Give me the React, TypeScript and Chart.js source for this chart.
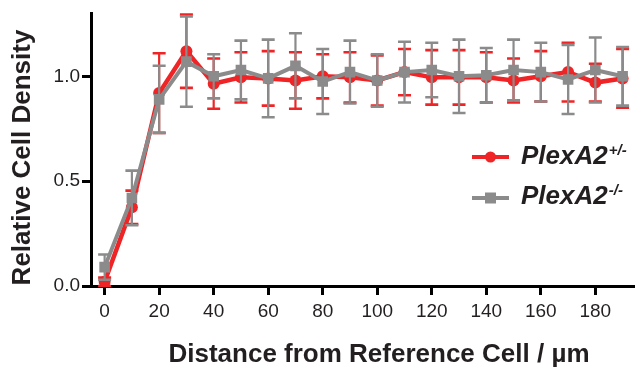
import React, { useEffect, useRef } from 'react';
import { Chart, registerables } from 'chart.js';

Chart.register(...registerables);

// ---- data ----
const distances = [0, 10, 20, 30, 40, 50, 60, 70, 80, 90, 100, 110, 120, 130, 140, 150, 160, 170, 180, 190];
const hetMeans = [0.02, 0.375, 0.92, 1.12, 0.965, 0.995, 0.99, 0.98, 1.0, 0.995, 0.98, 1.02, 0.995, 0.995, 0.995, 0.98, 1.0, 1.02, 0.97, 0.99];
const hetErrors = [0.02, 0.08, 0.19, 0.175, 0.12, 0.12, 0.13, 0.135, 0.105, 0.12, 0.12, 0.11, 0.13, 0.13, 0.12, 0.105, 0.12, 0.14, 0.09, 0.14];
const koMeans = [0.09, 0.42, 0.89, 1.07, 1.0, 1.03, 0.99, 1.05, 0.975, 1.02, 0.98, 1.02, 1.03, 1.0, 1.005, 1.03, 1.02, 0.985, 1.03, 1.0];
const koErrors = [0.06, 0.13, 0.16, 0.215, 0.105, 0.14, 0.185, 0.155, 0.155, 0.15, 0.125, 0.145, 0.13, 0.175, 0.13, 0.145, 0.14, 0.165, 0.155, 0.14];
const xTickValues = [0, 20, 40, 60, 80, 100, 120, 140, 160, 180];
const yTickValues = [0, 0.5, 1.0];
const xTitle = 'Distance from Reference Cell / µm';
const yTitle = 'Relative Cell Density';
const seriesNames = ['PlexA2', 'PlexA2'];
const seriesSups = ['+/-', '-/-'];

const RED = '#ee2426';
const GRAY = '#8b8b8b';
const INK = '#231f20';
const FONT = '"Liberation Sans", Arial, Helvetica, sans-serif';

const errorBarPlugin = {
  id: 'errorBars',
  beforeDatasetDraw(chart: any, args: any) {
    const ds = chart.data.datasets[args.index];
    const errs: number[] = ds.errors;
    if (!errs) return;
    const meta = chart.getDatasetMeta(args.index);
    const yScale = chart.scales.y;
    const ctx = chart.ctx;
    ctx.save();
    ctx.strokeStyle = ds.borderColor;
    ctx.lineCap = 'butt';
    meta.data.forEach((pt: any, i: number) => {
      const v = ds.data[i].y;
      const e = errs[i];
      const x = pt.x;
      const yTop = yScale.getPixelForValue(v + e);
      const yBot = yScale.getPixelForValue(v - e);
      ctx.lineWidth = 2.2;
      ctx.beginPath();
      ctx.moveTo(x, yTop);
      ctx.lineTo(x, yBot);
      ctx.stroke();
      ctx.lineWidth = 2.6;
      ctx.beginPath();
      ctx.moveTo(x - 6.5, yTop);
      ctx.lineTo(x + 6.5, yTop);
      ctx.moveTo(x - 6.5, yBot);
      ctx.lineTo(x + 6.5, yBot);
      ctx.stroke();
    });
    ctx.restore();
  },
};

const annotationPlugin = {
  id: 'titlesAndLegend',
  afterDraw(chart: any) {
    const ctx = chart.ctx;
    ctx.save();
    // axis titles
    ctx.fillStyle = INK;
    ctx.font = `bold 26px ${FONT}`;
    ctx.textAlign = 'center';
    ctx.textBaseline = 'alphabetic';
    ctx.fillText(xTitle, 379, 362);
    ctx.save();
    ctx.translate(30, 157.5);
    ctx.rotate(-Math.PI / 2);
    ctx.fillText(yTitle, 0, 0);
    ctx.restore();

    // legend
    const lineY = [157, 198];
    const textY = [164, 204];
    chart.data.datasets.forEach((ds: any, i: number) => {
      const y = lineY[i];
      ctx.strokeStyle = ds.borderColor;
      ctx.lineWidth = 4;
      ctx.beginPath();
      ctx.moveTo(472, y);
      ctx.lineTo(509, y);
      ctx.stroke();
      ctx.fillStyle = ds.borderColor;
      if (ds.pointStyle === 'rect') {
        ctx.fillRect(490.5 - 5.5, y - 5.5, 11, 11);
      } else {
        ctx.beginPath();
        ctx.arc(490.5, y, 5.5, 0, Math.PI * 2);
        ctx.fill();
      }
      ctx.fillStyle = INK;
      ctx.textAlign = 'left';
      ctx.font = `italic bold 26px ${FONT}`;
      ctx.fillText(seriesNames[i], 521, textY[i]);
      const w = ctx.measureText(seriesNames[i]).width;
      ctx.font = `italic bold 15px ${FONT}`;
      ctx.fillText(seriesSups[i], 521 + w + 1, textY[i] - 9);
    });
    ctx.restore();
  },
};

export default function App() {
  const canvasRef = useRef<HTMLCanvasElement | null>(null);

  useEffect(() => {
    const canvas = canvasRef.current;
    if (!canvas) return;
    const chart = new Chart(canvas, {
      type: 'line',
      data: {
        datasets: [
          {
            label: seriesNames[0] + seriesSups[0],
            data: distances.map((d, i) => ({ x: d, y: hetMeans[i] })),
            errors: hetErrors,
            borderColor: RED,
            backgroundColor: RED,
            borderWidth: 4.5,
            pointStyle: 'circle',
            pointRadius: 6,
            pointBorderWidth: 0,
            tension: 0,
            order: 2,
          } as any,
          {
            label: seriesNames[1] + seriesSups[1],
            data: distances.map((d, i) => ({ x: d, y: koMeans[i] })),
            errors: koErrors,
            borderColor: GRAY,
            backgroundColor: GRAY,
            borderWidth: 4,
            pointStyle: 'rect',
            pointRadius: 7.5,
            pointBorderWidth: 0,
            tension: 0,
            order: 1,
          } as any,
        ],
      },
      options: {
        responsive: false,
        animation: false,
        devicePixelRatio: 1,
        layout: { padding: { top: 11, right: 0, bottom: 0, left: 0 } },
        plugins: {
          legend: { display: false },
          tooltip: { enabled: false },
        },
        scales: {
          x: {
            type: 'linear',
            min: -5,
            max: 194,
            afterBuildTicks: (scale: any) => {
              scale.ticks = xTickValues.map((v) => ({ value: v }));
            },
            afterFit: (scale: any) => {
              scale.height = 84;
            },
            grid: {
              drawOnChartArea: false,
              drawTicks: true,
              tickLength: 9,
              lineWidth: 3,
              color: '#000',
            },
            border: { display: true, color: '#000', width: 3 },
            ticks: {
              autoSkip: false,
              maxRotation: 0,
              padding: 5,
              color: INK,
              font: { family: FONT, size: 19 },
              callback: (v: any) => String(v),
            },
          },
          y: {
            type: 'linear',
            min: 0,
            max: 1.3,
            afterBuildTicks: (scale: any) => {
              scale.ticks = yTickValues.map((v) => ({ value: v }));
            },
            afterFit: (scale: any) => {
              scale.width = 91;
            },
            grid: {
              drawOnChartArea: false,
              drawTicks: true,
              tickLength: 9,
              lineWidth: 3,
              color: '#000',
            },
            border: { display: true, color: '#000', width: 3 },
            ticks: {
              autoSkip: false,
              padding: 2,
              color: INK,
              font: { family: FONT, size: 19 },
              callback: (v: any) => Number(v).toFixed(1),
            },
          },
        },
      },
      plugins: [errorBarPlugin, annotationPlugin],
    });
    return () => chart.destroy();
  }, []);

  return (
    <div style={{ position: 'absolute', left: 0, top: 0, width: 641, height: 370, background: '#fff' }}>
      <canvas ref={canvasRef} width={641} height={370} style={{ display: 'block' }} />
    </div>
  );
}
